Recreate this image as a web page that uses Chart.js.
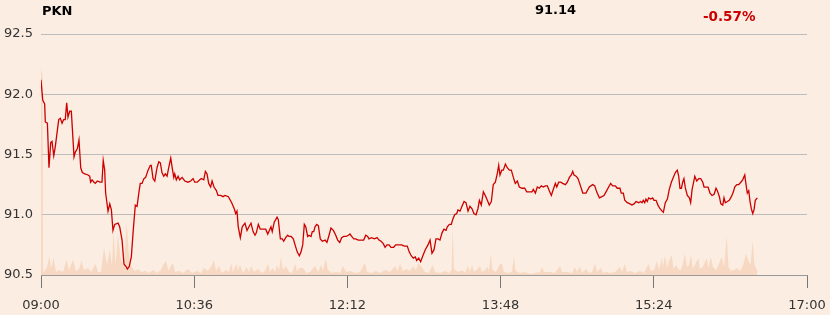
<!DOCTYPE html>
<html><head><meta charset="utf-8">
<script src="https://cdn.jsdelivr.net/npm/chart.js@4"></script>
<style>
html,body{margin:0;padding:0;background:#FBEDE1;}
#wrap{position:relative;width:830px;height:315px;background:#FBEDE1;}
canvas{position:absolute;left:0;top:0;}
.t{position:absolute;font-family:'DejaVu Sans',sans-serif;font-weight:bold;line-height:13px;white-space:nowrap;}
</style></head><body>
<div id="wrap">
<canvas id="c" width="830" height="315"></canvas>
<div class="t" style="left:42px;top:4px;font-size:13px;color:#000;">PKN</div>
<div class="t" style="left:535px;top:3px;font-size:13px;color:#000;">91.14</div>
<div class="t" style="left:703px;top:10px;font-size:13.5px;color:#cc0000;">-0.57%</div>
</div>
<script>
// minutes after 09:00 and price (PLN)
const minutesAM = [0,1.1,2.3,2.7,4.0,5.0,6.1,6.9,8.0,9.0,11.1,12.1,13.2,14.2,15.2,16.1,16.9,18.0,19.0,20.7,21.5,22.8,23.8,24.9,25.9,27.4,29.5,30.5,31.1,32.0,33.2,34.0,35.3,37.0,38.2,39.0,39.9,40.5,42.0,43.1,44.1,45.1,46.2,48.3,49.3,50.8,52.0,53.3,54.1,55.3,56.6,57.8,59.1,60.2,61.4,62.2,63.3,64.5,65.6,67.1,68.5,69.1,70.2,71.3,72.7,73.8,74.8,75.8,76.9,77.9,79.0,80.0,81.3,82.1,83.2,83.8,84.8,85.9,86.9,88.4,90.1,92.1,93.8,95.3,96.3,97.9,99.5,100.5,102.0,103.0,104.0,105.1,106.3,107.2,108.4,109.9,110.9,112.6,114.1];
const pricesAM = [92.12,91.95,91.92,91.77,91.76,91.39,91.60,91.61,91.49,91.57,91.79,91.80,91.76,91.79,91.79,91.93,91.81,91.86,91.86,91.48,91.52,91.55,91.62,91.39,91.35,91.34,91.33,91.32,91.27,91.29,91.27,91.26,91.28,91.27,91.27,91.45,91.37,91.18,91.03,91.09,91.04,90.87,90.92,90.93,90.90,90.79,90.59,90.57,90.55,90.57,90.65,90.87,91.08,91.07,91.19,91.26,91.26,91.30,91.31,91.37,91.41,91.41,91.30,91.28,91.39,91.44,91.43,91.35,91.32,91.34,91.32,91.39,91.47,91.40,91.31,91.34,91.29,91.32,91.29,91.31,91.28,91.27,91.28,91.30,91.27,91.27,91.29,91.30,91.29,91.36,91.34,91.26,91.23,91.28,91.23,91.20,91.16,91.16,91.15];
const minutesMid = [115.3,117.4,119.5,121.1,122.0,122.8,123.6,124.9,126.1,127.8,129.1,130.3,131.6,132.9,134.1,134.9,136.2,137.4,139.3,140.8,142.1,143.1,144.1,144.9,146.2,147.1,147.9,148.7,150.0,151.2,152.1,153.3,154.6,155.4,156.7,158.1,159.2,160.6,161.9,162.9,164.0,165.0,165.9,167.1,167.9,169.2,170.0,170.9,171.7,172.8,173.8,175.0,176.3,178.0,179.2,180.5,181.7,183.2,184.7,185.9,187.2,188.4,189.7,191.3,192.6,193.6,194.7,196.0,197.2,198.8,201.0,202.2,203.5,204.7,205.5,207.2,208.9,210.6,211.8,213.1,214.5,215.6,216.8,218.1,219.3,221.0,222.3,224.3,226.0,227.7];
const pricesMid = [91.16,91.15,91.10,91.05,91.01,91.03,90.90,90.81,90.90,90.93,90.87,90.90,90.93,90.86,90.83,90.85,90.92,90.88,90.88,90.88,90.84,90.87,90.90,90.86,90.94,90.96,90.98,90.96,90.80,90.80,90.78,90.81,90.83,90.82,90.82,90.80,90.75,90.69,90.66,90.69,90.75,90.92,90.90,90.82,90.83,90.82,90.86,90.86,90.90,90.92,90.91,90.80,90.78,90.79,90.77,90.83,90.89,90.87,90.83,90.79,90.77,90.81,90.82,90.82,90.83,90.84,90.82,90.80,90.80,90.79,90.79,90.79,90.83,90.82,90.80,90.81,90.80,90.81,90.79,90.78,90.76,90.73,90.75,90.75,90.73,90.73,90.75,90.75,90.75,90.74];
const minutesPM = [229.5,230.8,232.0,233.3,234.6,235.4,236.7,237.9,239.6,240.8,242.5,243.8,245.0,246.3,247.5,248.8,250.0,251.3,252.5,253.8,254.6,255.9,257.1,258.0,259.2,260.5,261.3,262.6,263.8,265.1,266.3,267.6,268.8,270.1,271.3,272.6,273.8,274.7,275.9,277.2,278.4,279.7,280.9,282.2,283.4,284.7,285.9,286.8,287.6,288.7,289.7,291.0,292.2,293.5,294.7,296.0,297.2,298.5,299.7,301.4,303.1,304.4,306.0,307.7,308.5,309.8,311.0,312.3,313.5,314.8,316.0,317.3,318.5,319.8,321.0,322.3,323.2,324.4,325.7,326.9,328.6,329.8,331.1,332.3,333.2,334.0,335.3,336.5,337.8];
const pricesPM = [90.74,90.69,90.66,90.64,90.65,90.62,90.64,90.61,90.67,90.71,90.75,90.79,90.68,90.71,90.80,90.80,90.79,90.85,90.88,90.87,90.90,90.92,90.92,90.96,91.00,91.01,91.04,91.03,91.07,91.11,91.10,91.03,91.07,91.05,91.01,91.00,91.05,91.12,91.08,91.19,91.16,91.12,91.08,91.11,91.25,91.27,91.34,91.41,91.33,91.37,91.37,91.42,91.39,91.37,91.37,91.31,91.26,91.28,91.23,91.22,91.22,91.19,91.19,91.19,91.21,91.18,91.23,91.22,91.24,91.23,91.24,91.24,91.20,91.16,91.21,91.26,91.23,91.27,91.27,91.26,91.25,91.27,91.31,91.33,91.36,91.33,91.32,91.30,91.25];
const minutesLate = [339.5,341.5,343.6,345.7,347.0,348.2,349.9,351.5,352.8,354.5,355.7,357.0,358.2,359.9,361.1,362.8,363.6,364.9,365.8,367.4,369.1,370.3,371.6,372.9,374.5,375.8,376.6,377.4,378.3,379.1,379.9,380.8,382.1,383.3,384.1,385.4,386.6,387.9,389.2,390.0,391.2,392.5,393.7,395.0,396.2,397.5,398.7,399.6,400.4,401.3,402.1,402.9,403.8,405.0,406.3,407.1,408.0,408.8,409.7,410.9,412.2,413.4,414.7,415.5,416.7,418.0,419.2,420.5,421.8,423.0,423.8,425.1,426.0,427.2,428.0,428.8,430.1,431.3,432.6,433.9,434.7,436.0,437.2,438.5,439.7,441.0,441.8,442.6,443.5,444.3,445.1,446.0,446.8,447.6,448.9];
const pricesLate = [91.18,91.18,91.23,91.25,91.24,91.19,91.14,91.15,91.16,91.20,91.23,91.26,91.24,91.24,91.22,91.22,91.18,91.18,91.12,91.10,91.09,91.08,91.09,91.11,91.10,91.11,91.10,91.12,91.10,91.13,91.11,91.14,91.13,91.14,91.12,91.12,91.08,91.05,91.03,91.02,91.10,91.13,91.21,91.27,91.31,91.35,91.37,91.32,91.22,91.22,91.27,91.30,91.22,91.16,91.14,91.10,91.21,91.26,91.32,91.28,91.30,91.30,91.27,91.23,91.23,91.23,91.18,91.16,91.17,91.22,91.20,91.15,91.09,91.08,91.14,91.10,91.11,91.12,91.15,91.19,91.23,91.25,91.25,91.27,91.29,91.33,91.25,91.18,91.20,91.11,91.05,91.01,91.04,91.12,91.14];

// traded volume (shares)
const volMinutes = [0,0.9,1.3,1.9,3.8,5.3,6.3,7.8,9.4,11.3,13.8,16.0,17.5,20.1,21.9,23.8,25.4,26.9,29.5,31.3,34.2,35.7,37.6,39.5,41.4,43.2,44.5,45.4,46.7,48.2,50.1,52.0,53.6,55.1,56.7,58.9,60.8,62.7,65.2,67.7,70.2,72.7,75.2,76.8,78.3,79.9,81.5,82.7,84.0,86.5,89.0,92.1,94.6,97.8,100.3,102.1,104.6,106.5,108.4,109.7,111.5,113.4,115.9,117.8,119.1,120.3,122.5,123.4,124.7,126.6,128.8,130.3,131.6,133.5,136.0,138.5,140.4,142.2,143.5,145.1,146.6,147.9,149.1,150.4,151.6,153.5,155.4,157.3,159.2,160.4,162.3,164.2,166.1,168.6,171.7,173.6,175.5,176.7,178.4,179.8,182.3,184.9,187.4,189.2,191.1,193.6,196.8,199.9,203.0,204.3,207.4,209.9,212.4,215.6,218.7,221.8,223.4,225.0,226.8,229.3,231.2,233.3,235.0,236.4,238.1,240.6,243.1,245.4,246.9,250.0,253.2,255.7,257.3,258.0,258.8,261.3,263.8,265.6,267.6,268.8,270.1,271.3,273.6,275.1,276.3,278.2,279.8,280.7,281.8,282.9,285.1,287.6,288.9,290.1,292.6,295.1,296.4,297.3,300.2,303.3,306.4,309.6,312.7,313.9,315.2,319.0,322.1,325.2,326.5,329.6,332.7,334.6,335.8,337.8,339.0,341.5,343.4,345.3,347.2,348.4,350.8,352.2,354.1,356.6,359.7,362.8,364.1,365.9,367.2,369.1,372.3,375.4,377.9,380.6,382.2,384.2,385.9,387.3,389.0,389.8,391.0,392.3,393.5,395.2,396.4,398.0,399.2,401.0,402.3,403.5,404.8,406.0,407.3,408.5,409.8,411.9,412.9,414.8,417.1,418.3,419.7,421.1,423.0,424.2,426.6,428.0,429.7,430.8,432.4,434.3,436.1,438.0,440.0,441.8,443.3,444.6,446.0,447.1,448.8];
const volumes = [103000,100000,2000,1500,4000,9500,3000,8500,1500,2500,1500,7500,2500,7500,2000,3000,7000,2500,3500,1500,5500,1500,1500,13500,5000,13000,4000,22500,5000,20000,7500,4000,26000,10000,4000,2000,3000,1500,2000,1000,2500,1000,2500,5500,7000,2000,4500,6000,1500,2000,1000,3000,1000,2000,1000,3500,2000,4000,7500,2000,4500,1000,2500,1500,6000,1500,5500,2000,5000,1000,4000,1500,4500,1500,3000,1000,2000,5500,1500,3500,1500,5000,2000,9000,2500,4500,1500,1000,5500,2000,3500,3500,1000,1500,4500,1500,5000,2000,8000,2500,1000,1500,1000,4500,1500,2000,1000,1500,6000,1500,1000,2000,1000,2500,1500,4500,2000,5500,2000,3000,2000,4500,2500,6000,4500,1500,1000,5000,1500,1000,2000,1000,2500,24000,3000,1500,2500,1000,4500,1500,5000,1500,3000,4500,1500,2500,4000,2000,10500,2500,1500,5500,5500,1500,1000,1500,9500,2000,1000,1500,500,1000,1500,4000,1500,1500,1000,4500,1500,1500,1000,4000,1500,4000,1000,3000,1000,1500,5500,1500,3500,1000,1500,1000,1500,4000,1500,5500,1500,2000,1000,2000,1000,5500,2000,2500,7000,2500,8500,4000,9500,3500,7000,10000,3000,5000,3000,2500,6000,10500,4000,5000,10000,3000,5000,8500,3000,4000,8500,3500,9000,4000,2500,4500,9000,4000,19500,4000,2000,2500,3500,2000,5000,10500,7000,5000,17000,5000,2000];

const tickMinutes = [0,96,192,288,384,480];
const tickLabels = ['09:00','10:36','12:12','13:48','15:24','17:00'];
const priceTicks = [90.5,91.0,91.5,92.0,92.5];

const allMinutes = minutesAM.concat(minutesMid, minutesPM, minutesLate);
const allPrices = pricesAM.concat(pricesMid, pricesPM, pricesLate);
const priceData = [];
for (let i = 0; i < Math.min(allMinutes.length, allPrices.length); i++) priceData.push({x: allMinutes[i], y: allPrices[i]});
const volData = [];
for (let i = 0; i < Math.min(volMinutes.length, volumes.length); i++) volData.push({x: volMinutes[i], y: volumes[i]});

const tickFont = {family: "'DejaVu Sans', sans-serif", size: 13};
new Chart(document.getElementById('c'), {
  type: 'line',
  data: {datasets: [
    {label: 'PKN', data: priceData, borderColor: '#cc0000', borderWidth: 1.3, pointRadius: 0, tension: 0, fill: false, yAxisID: 'y', order: 1},
    {label: 'Volume', data: volData, borderWidth: 0, borderColor: 'rgba(0,0,0,0)', backgroundColor: 'rgba(245,204,176,0.65)', pointRadius: 0, tension: 0, fill: 'origin', yAxisID: 'y2', order: 2}
  ]},
  options: {
    responsive: false, animation: false, devicePixelRatio: 1,
    layout: {padding: {top: 34, right: 23, bottom: 0, left: 0}},
    plugins: {legend: {display: false}, tooltip: {enabled: false}},
    scales: {
      x: {
        type: 'linear', min: 0, max: 480,
        afterBuildTicks: s => { s.ticks = tickMinutes.map(v => ({value: v})); },
        ticks: {callback: (v, i) => tickLabels[i], font: tickFont, color: '#333', maxRotation: 0, autoSkip: false, padding: 10},
        grid: {drawOnChartArea: false, drawTicks: true, tickLength: 13, tickColor: '#777', tickWidth: 1},
        border: {display: true, color: '#999', width: 1},
        afterFit: s => { s.height = 40; s.paddingLeft = 0; s.paddingRight = 0; }
      },
      y: {
        min: 90.5, max: 92.5,
        afterBuildTicks: s => { s.ticks = priceTicks.map(v => ({value: v})); },
        ticks: {callback: v => Number(v).toFixed(1), font: tickFont, color: '#333', padding: 8},
        grid: {color: '#bcbcbc', lineWidth: 1, drawTicks: false},
        border: {display: false},
        afterFit: s => { s.width = 41; }
      },
      y2: {display: false, min: 0, max: 120000}
    }
  }
});
</script>
</body></html>
